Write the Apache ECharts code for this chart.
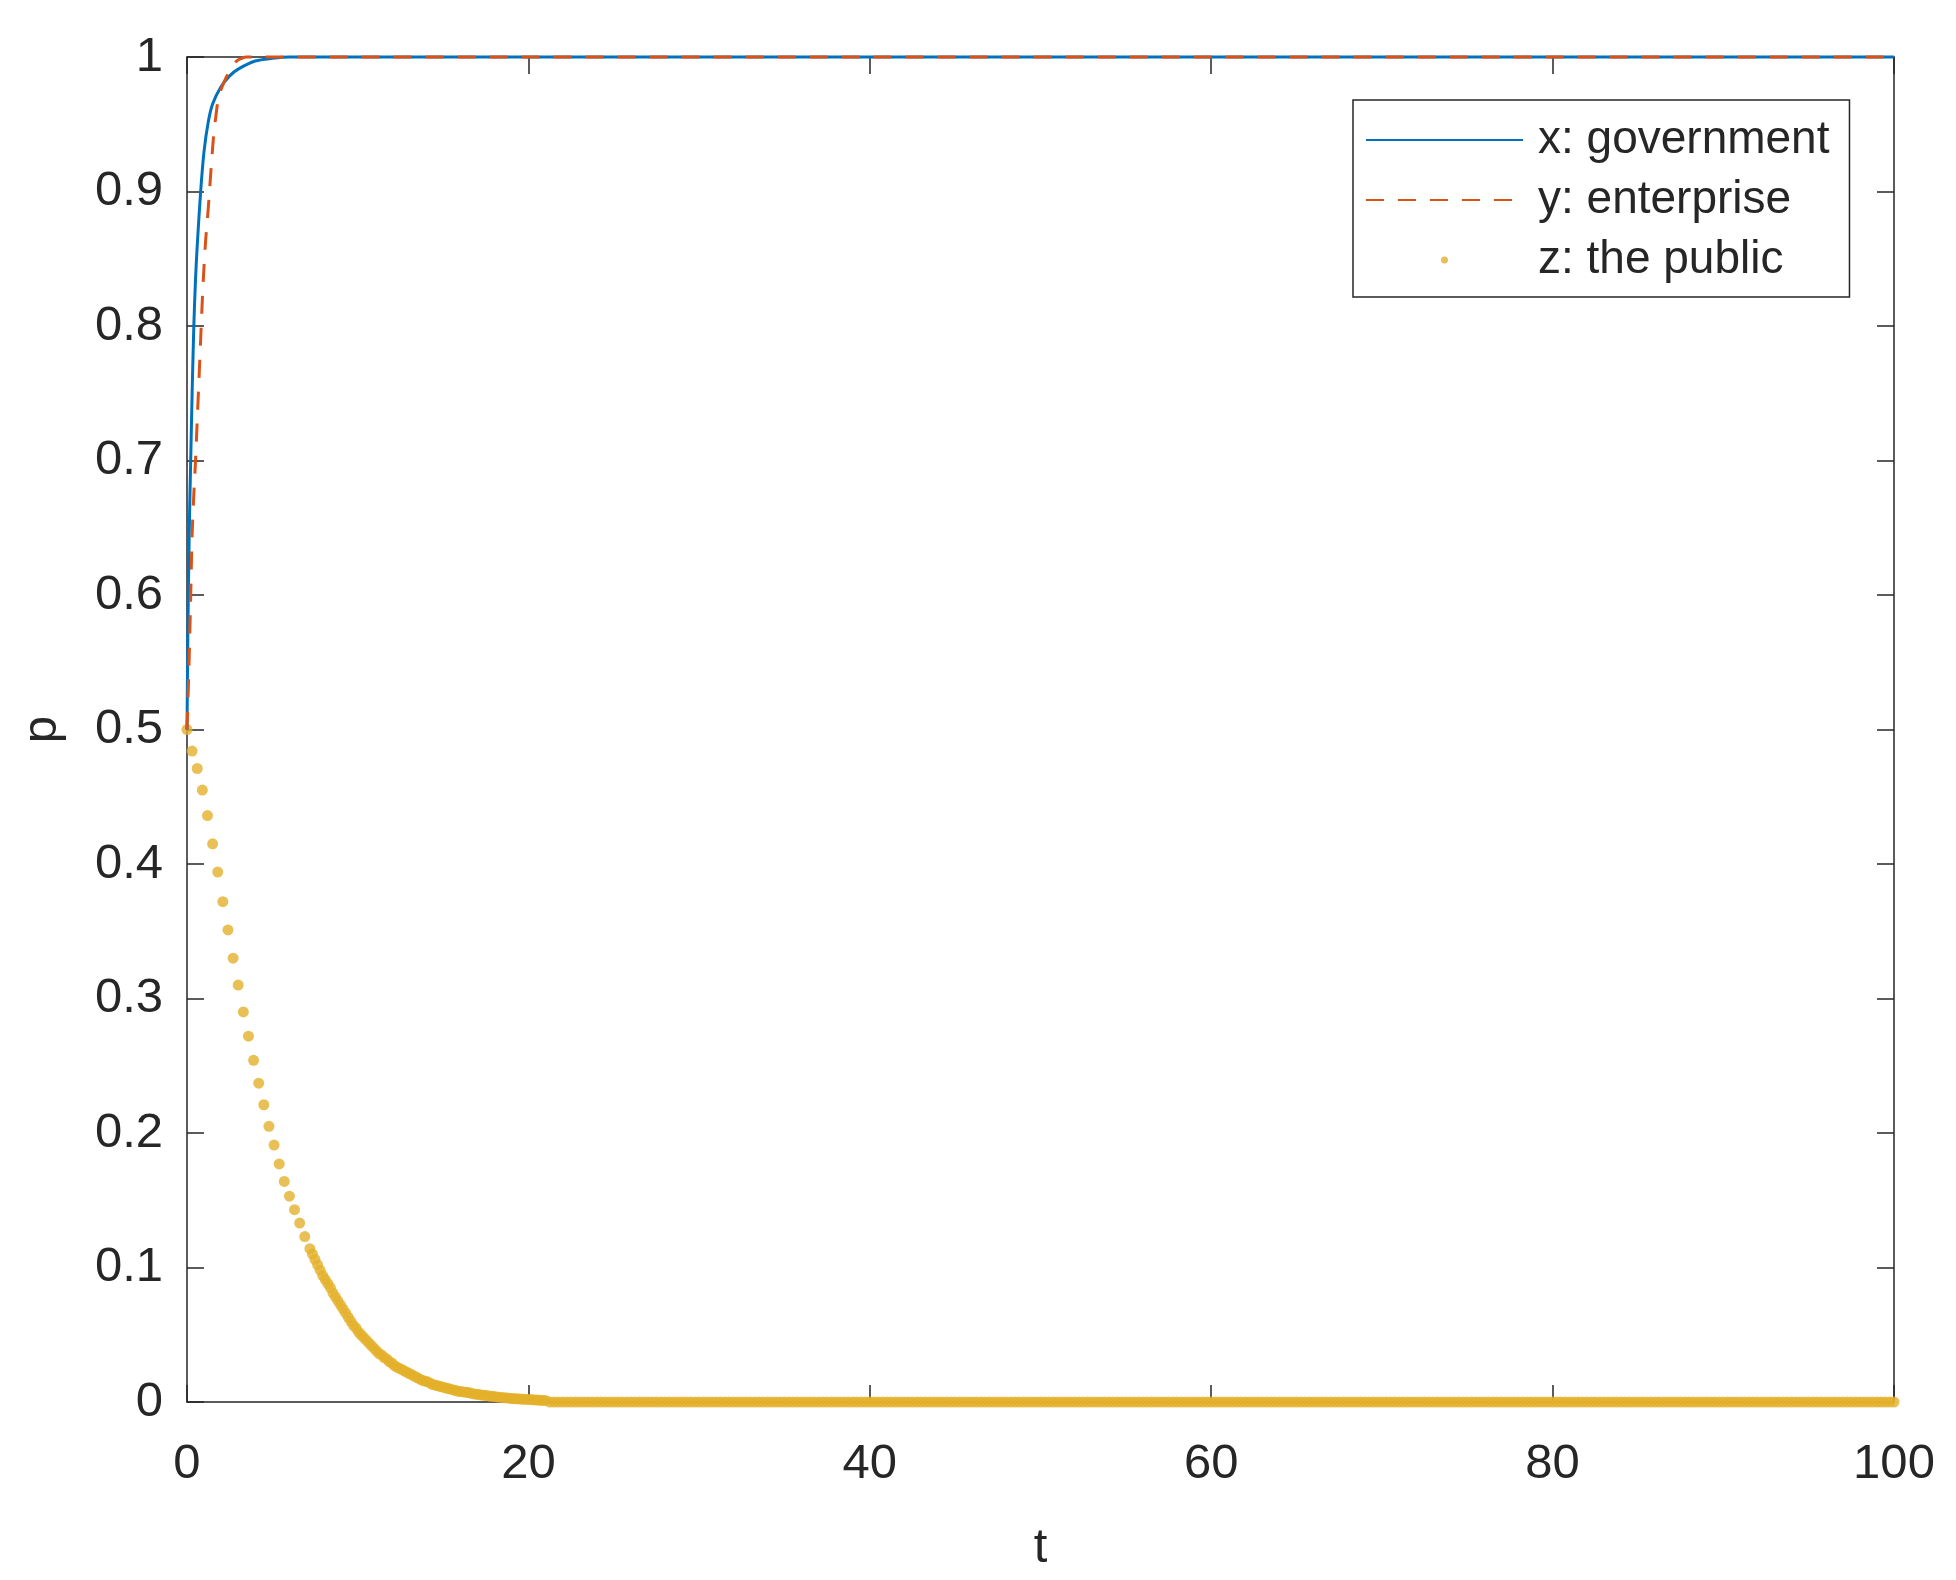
<!DOCTYPE html>
<html>
<head>
<meta charset="utf-8">
<title>p vs t</title>
<script src="https://cdn.jsdelivr.net/npm/echarts@6/dist/echarts.min.js"></script>
<style>
  html, body { margin: 0; padding: 0; background: #fff; }
  #main { width: 1956px; height: 1580px; }
</style>
</head>
<body>
<div id="main"></div>
<script>
// x: government (solid)
var tX = [0, 0.05, 0.1, 0.15, 0.2, 0.3, 0.4, 0.5, 0.6, 0.8, 1.0, 1.25, 1.5, 2, 2.5, 3, 4, 5, 6, 10, 20, 40, 60, 80, 100];
var pX = [0.5, 0.57, 0.62, 0.66, 0.69, 0.75, 0.80, 0.835, 0.86, 0.90, 0.93, 0.952, 0.965, 0.978, 0.986, 0.991, 0.997, 0.999, 1, 1, 1, 1, 1, 1, 1];

// y: enterprise (dashed)
var tY = [0, 0.1, 0.2, 0.3, 0.4, 0.5, 0.6, 0.7, 0.8, 0.9, 1.0, 1.1, 1.2, 1.3, 1.4, 1.55, 1.7, 1.85, 2.0, 2.3, 2.6, 2.9, 3.2, 3.5, 10, 20, 40, 60, 80, 100];
var pY = [0.5, 0.54, 0.59, 0.645, 0.675, 0.70, 0.73, 0.76, 0.79, 0.82, 0.845, 0.865, 0.88, 0.897, 0.915, 0.94, 0.957, 0.97, 0.976, 0.985, 0.992, 0.997, 0.999, 1, 1, 1, 1, 1, 1, 1];

// z: the public (dots) - steep part, separate markers
var tZ = [
  0, 0.3, 0.6, 0.9, 1.2, 1.5, 1.8, 2.1, 2.4, 2.7,
  3.0, 3.3, 3.6, 3.9, 4.2, 4.5, 4.8, 5.1, 5.4, 5.7,
  6.0, 6.3, 6.6, 6.9, 7.2
];
var pZ = [
  0.500, 0.484, 0.471, 0.455, 0.436, 0.415, 0.394, 0.372, 0.351, 0.330,
  0.310, 0.290, 0.272, 0.254, 0.237, 0.221, 0.205, 0.191, 0.177, 0.164,
  0.153, 0.143, 0.133, 0.123, 0.114
];

// z: where the markers merge into a band
var tZBend = [
  7.35, 7.5, 7.65, 7.8, 7.95, 8.1, 8.25, 8.4, 8.55, 8.7,
  8.85, 9.0, 9.15, 9.3, 9.45, 9.6, 9.75, 9.9, 10.05, 10.2,
  10.35, 10.5, 10.65, 10.8, 10.95, 11.1, 11.25, 11.4, 11.55, 11.7,
  11.85, 12.0, 12.15, 12.3, 12.45, 12.6, 12.75, 12.9, 13.05, 13.2,
  13.35, 13.5, 13.65, 13.8, 13.95, 14.1, 14.25, 14.4, 14.55, 14.7,
  14.85, 15.0, 15.15, 15.3, 15.45, 15.6, 15.75, 15.9, 16.05, 16.2,
  16.35, 16.5, 16.65, 16.8, 16.95, 17.1, 17.25, 17.4, 17.55, 17.7,
  17.85, 18.0, 18.15, 18.3, 18.45, 18.6, 18.75, 18.9, 19.05, 19.2,
  19.35, 19.5, 19.65, 19.8, 19.95, 20.1, 20.25, 20.4, 20.55, 20.7,
  20.85, 21.0
];
var pZBend = [
  0.110, 0.106, 0.102, 0.098, 0.094, 0.091, 0.088, 0.085, 0.081, 0.078,
  0.075, 0.072, 0.069, 0.066, 0.063, 0.060, 0.057, 0.055, 0.052, 0.050,
  0.048, 0.046, 0.044, 0.042, 0.040, 0.038, 0.036, 0.035, 0.033, 0.032,
  0.030, 0.029, 0.027, 0.026, 0.025, 0.024, 0.023, 0.022, 0.021, 0.020,
  0.019, 0.018, 0.017, 0.016, 0.0155, 0.015, 0.014, 0.013, 0.0125, 0.012,
  0.0115, 0.011, 0.0105, 0.010, 0.0095, 0.009, 0.0085, 0.008, 0.0078, 0.0075,
  0.0072, 0.007, 0.0065, 0.006, 0.0058, 0.0055, 0.0052, 0.005, 0.0048, 0.0045,
  0.0042, 0.004, 0.0038, 0.0036, 0.0034, 0.0032, 0.003, 0.0028, 0.0026, 0.0025,
  0.0024, 0.0022, 0.0021, 0.002, 0.0019, 0.0018, 0.0016, 0.0015, 0.0014, 0.0013,
  0.0012, 0.0012
];

// z: flat tail at zero
var tZTail = [
  21.25, 21.5, 21.75,
  22, 22.25, 22.5, 22.75, 23, 23.25, 23.5, 23.75, 24, 24.25, 24.5, 24.75, 25, 25.25, 25.5, 25.75, 26, 26.25, 26.5, 26.75,
  27, 27.25, 27.5, 27.75, 28, 28.25, 28.5, 28.75, 29, 29.25, 29.5, 29.75, 30, 30.25, 30.5, 30.75, 31, 31.25, 31.5, 31.75,
  32, 32.25, 32.5, 32.75, 33, 33.25, 33.5, 33.75, 34, 34.25, 34.5, 34.75, 35, 35.25, 35.5, 35.75, 36, 36.25, 36.5, 36.75,
  37, 37.25, 37.5, 37.75, 38, 38.25, 38.5, 38.75, 39, 39.25, 39.5, 39.75, 40, 40.25, 40.5, 40.75, 41, 41.25, 41.5, 41.75,
  42, 42.25, 42.5, 42.75, 43, 43.25, 43.5, 43.75, 44, 44.25, 44.5, 44.75, 45, 45.25, 45.5, 45.75, 46, 46.25, 46.5, 46.75,
  47, 47.25, 47.5, 47.75, 48, 48.25, 48.5, 48.75, 49, 49.25, 49.5, 49.75, 50, 50.25, 50.5, 50.75, 51, 51.25, 51.5, 51.75,
  52, 52.25, 52.5, 52.75, 53, 53.25, 53.5, 53.75, 54, 54.25, 54.5, 54.75, 55, 55.25, 55.5, 55.75, 56, 56.25, 56.5, 56.75,
  57, 57.25, 57.5, 57.75, 58, 58.25, 58.5, 58.75, 59, 59.25, 59.5, 59.75, 60, 60.25, 60.5, 60.75, 61, 61.25, 61.5, 61.75,
  62, 62.25, 62.5, 62.75, 63, 63.25, 63.5, 63.75, 64, 64.25, 64.5, 64.75, 65, 65.25, 65.5, 65.75, 66, 66.25, 66.5, 66.75,
  67, 67.25, 67.5, 67.75, 68, 68.25, 68.5, 68.75, 69, 69.25, 69.5, 69.75, 70, 70.25, 70.5, 70.75, 71, 71.25, 71.5, 71.75,
  72, 72.25, 72.5, 72.75, 73, 73.25, 73.5, 73.75, 74, 74.25, 74.5, 74.75, 75, 75.25, 75.5, 75.75, 76, 76.25, 76.5, 76.75,
  77, 77.25, 77.5, 77.75, 78, 78.25, 78.5, 78.75, 79, 79.25, 79.5, 79.75, 80, 80.25, 80.5, 80.75, 81, 81.25, 81.5, 81.75,
  82, 82.25, 82.5, 82.75, 83, 83.25, 83.5, 83.75, 84, 84.25, 84.5, 84.75, 85, 85.25, 85.5, 85.75, 86, 86.25, 86.5, 86.75,
  87, 87.25, 87.5, 87.75, 88, 88.25, 88.5, 88.75, 89, 89.25, 89.5, 89.75, 90, 90.25, 90.5, 90.75, 91, 91.25, 91.5, 91.75,
  92, 92.25, 92.5, 92.75, 93, 93.25, 93.5, 93.75, 94, 94.25, 94.5, 94.75, 95, 95.25, 95.5, 95.75, 96, 96.25, 96.5, 96.75,
  97, 97.25, 97.5, 97.75, 98, 98.25, 98.5, 98.75, 99, 99.25, 99.5, 99.75, 100
];
var pZTail = [
  0, 0, 0, 0, 0, 0, 0, 0, 0, 0, 0, 0, 0, 0, 0, 0, 0, 0, 0, 0,
  0, 0, 0, 0, 0, 0, 0, 0, 0, 0, 0, 0, 0, 0, 0, 0, 0, 0, 0, 0,
  0, 0, 0, 0, 0, 0, 0, 0, 0, 0, 0, 0, 0, 0, 0, 0, 0, 0, 0, 0,
  0, 0, 0, 0, 0, 0, 0, 0, 0, 0, 0, 0, 0, 0, 0, 0, 0, 0, 0, 0,
  0, 0, 0, 0, 0, 0, 0, 0, 0, 0, 0, 0, 0, 0, 0, 0, 0, 0, 0, 0,
  0, 0, 0, 0, 0, 0, 0, 0, 0, 0, 0, 0, 0, 0, 0, 0, 0, 0, 0, 0,
  0, 0, 0, 0, 0, 0, 0, 0, 0, 0, 0, 0, 0, 0, 0, 0, 0, 0, 0, 0,
  0, 0, 0, 0, 0, 0, 0, 0, 0, 0, 0, 0, 0, 0, 0, 0, 0, 0, 0, 0,
  0, 0, 0, 0, 0, 0, 0, 0, 0, 0, 0, 0, 0, 0, 0, 0, 0, 0, 0, 0,
  0, 0, 0, 0, 0, 0, 0, 0, 0, 0, 0, 0, 0, 0, 0, 0, 0, 0, 0, 0,
  0, 0, 0, 0, 0, 0, 0, 0, 0, 0, 0, 0, 0, 0, 0, 0, 0, 0, 0, 0,
  0, 0, 0, 0, 0, 0, 0, 0, 0, 0, 0, 0, 0, 0, 0, 0, 0, 0, 0, 0,
  0, 0, 0, 0, 0, 0, 0, 0, 0, 0, 0, 0, 0, 0, 0, 0, 0, 0, 0, 0,
  0, 0, 0, 0, 0, 0, 0, 0, 0, 0, 0, 0, 0, 0, 0, 0, 0, 0, 0, 0,
  0, 0, 0, 0, 0, 0, 0, 0, 0, 0, 0, 0, 0, 0, 0, 0, 0, 0, 0, 0,
  0, 0, 0, 0, 0, 0, 0, 0, 0, 0, 0, 0, 0, 0, 0, 0
];

var xTicks = { min: 0, max: 100, interval: 20 };
var yTicks = { min: 0, max: 1, interval: 0.1 };

var seriesNames = ["x: government", "y: enterprise", "z: the public"];

function pairs(ts, ps) {
  var out = [];
  for (var i = 0; i < ts.length; i++) out.push([ts[i], ps[i]]);
  return out;
}

var FONT = "'Liberation Sans', Arial, Helvetica, sans-serif";
var AXIS_COLOR = "#262626";

var chart = echarts.init(document.getElementById("main"));

function frameAxis(extra) {
  var base = {
    type: "value",
    axisLine: { show: true, onZero: false, lineStyle: { color: AXIS_COLOR, width: 1.5 } },
    axisTick: { show: true, inside: true, length: 17, lineStyle: { color: AXIS_COLOR, width: 1.5 } },
    splitLine: { show: false },
    axisLabel: { show: false }
  };
  return Object.assign(base, extra);
}

var option = {
  animation: false,
  backgroundColor: "#ffffff",
  grid: { left: 187, right: 62, top: 57, bottom: 178, containLabel: false },
  legend: {
    orient: "vertical",
    left: 1353,
    top: 100,
    padding: [17, 20, 14, 12],
    itemWidth: 157,
    itemHeight: 7,
    itemGap: 14,
    borderColor: AXIS_COLOR,
    borderWidth: 1.5,
    backgroundColor: "#ffffff",
    textStyle: { fontFamily: FONT, fontSize: 46, lineHeight: 46, color: "#262626", padding: [0, 0, 0, 10] },
    data: [
      // line icons only, hide the centre marker
      { name: seriesNames[0], itemStyle: { opacity: 0 } },
      { name: seriesNames[1], itemStyle: { opacity: 0 } },
      { name: seriesNames[2], icon: "circle" }
    ]
  },
  xAxis: [
    frameAxis({
      position: "bottom",
      min: xTicks.min, max: xTicks.max, interval: xTicks.interval,
      name: "t",
      nameLocation: "middle",
      nameGap: 122,
      nameTextStyle: { fontFamily: FONT, fontSize: 49, color: AXIS_COLOR },
      axisLabel: { show: true, margin: 38, fontFamily: FONT, fontSize: 49, color: AXIS_COLOR }
    }),
    frameAxis({ position: "top", min: xTicks.min, max: xTicks.max, interval: xTicks.interval })
  ],
  yAxis: [
    frameAxis({
      position: "left",
      min: yTicks.min, max: yTicks.max, interval: yTicks.interval,
      name: "p",
      nameLocation: "middle",
      nameRotate: 90,
      nameGap: 120,
      nameTextStyle: { fontFamily: FONT, fontSize: 49, color: AXIS_COLOR },
      axisLabel: { show: true, margin: 24, fontFamily: FONT, fontSize: 49, color: AXIS_COLOR }
    }),
    frameAxis({ position: "right", min: yTicks.min, max: yTicks.max, interval: yTicks.interval })
  ],
  series: [
    {
      name: seriesNames[0],
      type: "line",
      xAxisIndex: 0,
      yAxisIndex: 0,
      data: pairs(tX, pX),
      symbol: "none",
      smooth: 0.3,
      clip: false,
      lineStyle: { color: "#0072BD", width: 3 },
      itemStyle: { color: "#0072BD" }
    },
    {
      name: seriesNames[1],
      type: "line",
      xAxisIndex: 0,
      yAxisIndex: 0,
      data: pairs(tY, pY),
      symbol: "none",
      smooth: 0.3,
      clip: false,
      lineStyle: { color: "#D95319", width: 3, type: [18, 14] },
      itemStyle: { color: "#D95319" }
    },
    {
      name: seriesNames[2],
      type: "scatter",
      xAxisIndex: 0,
      yAxisIndex: 0,
      data: pairs(tZ, pZ).concat(pairs(tZBend, pZBend), pairs(tZTail, pZTail)),
      symbol: "circle",
      symbolSize: 11,
      clip: false,
      itemStyle: { color: "#E3B02A" },
      emphasis: { disabled: true }
    }
  ]
};

chart.setOption(option);
</script>
</body>
</html>
